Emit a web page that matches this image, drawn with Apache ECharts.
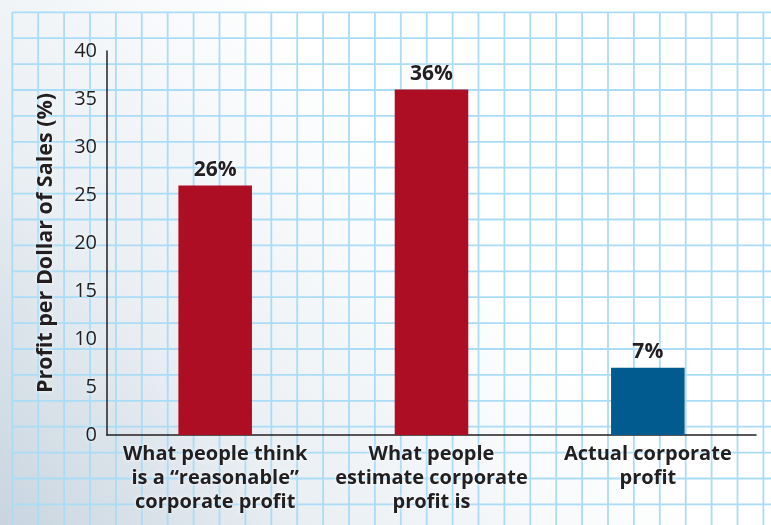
<!DOCTYPE html>
<html>
<head>
<meta charset="utf-8">
<title>Profit per Dollar of Sales</title>
<script src="https://cdn.jsdelivr.net/npm/echarts@6/dist/echarts.min.js"></script>
<style>
  html, body { margin: 0; padding: 0; background: #fff; }
  #chart { width: 771px; height: 525px; }
</style>
</head>
<body>
<div id="chart"></div>
<script>
// Survey categories and their profit percentages
const categories = [
  'What people think\nis a \u201creasonable\u201d\ncorporate profit',
  'What people\nestimate corporate\nprofit is',
  'Actual corporate\nprofit'
];
const profitValues = [26, 36, 7];
const barColors = ['#ad0e23', '#ad0e23', '#015b8e'];
const yTicks = [0, 5, 10, 15, 20, 25, 30, 35, 40];
const yAxisTitle = 'Profit per Dollar of Sales (%)';

const W = 771, H = 525;
const TEXT = '#231f20';
const FONT = '"Open Sans", "Noto Sans", sans-serif';
const halo = { textShadowColor: 'rgba(255,255,255,0.95)', textShadowBlur: 4 };

// Graph-paper backdrop
const paper = [];
const step = 25.9, start = 12.3;
for (let x = start; x < W + 1; x += step) {
  paper.push({ type: 'line', silent: true, z: -10,
    shape: { x1: x, y1: start, x2: x, y2: H },
    style: { stroke: '#aadcf6', lineWidth: 1.8 } });
}
for (let y = start; y < H + 1; y += step) {
  paper.push({ type: 'line', silent: true, z: -10,
    shape: { x1: start, y1: y, x2: W, y2: y },
    style: { stroke: '#aadcf6', lineWidth: 1.8 } });
}

const chart = echarts.init(document.getElementById('chart'), null, { renderer: 'canvas' });
chart.setOption({
  animation: false,
  backgroundColor: new echarts.graphic.LinearGradient(0, 1, 0.55, 0.35, [
    { offset: 0, color: '#c8d5df' },
    { offset: 0.45, color: '#eaeff3' },
    { offset: 1, color: '#ffffff' }
  ]),
  textStyle: { fontFamily: FONT, color: TEXT },
  graphic: paper,
  grid: { left: 107, right: 15, top: 51, bottom: 90, containLabel: false },
  xAxis: {
    type: 'category',
    data: categories,
    axisLine: { lineStyle: { color: TEXT, width: 1.5 } },
    axisTick: { show: false },
    axisLabel: {
      interval: 0, margin: 7, fontSize: 20, fontWeight: 'bold', lineHeight: 24,
      color: TEXT, fontFamily: FONT, ...halo
    },
    splitLine: { show: false }
  },
  yAxis: {
    type: 'value',
    min: yTicks[0], max: yTicks[yTicks.length - 1], interval: 5,
    name: yAxisTitle,
    nameLocation: 'middle',
    nameGap: 50,
    nameTextStyle: { fontSize: 21.5, fontWeight: 'bold', color: TEXT, fontFamily: FONT, ...halo },
    axisLine: { show: true, lineStyle: { color: TEXT, width: 1.5 } },
    axisTick: { show: false },
    axisLabel: { margin: 10, fontSize: 20, color: TEXT, fontFamily: FONT, ...halo },
    splitLine: { show: false }
  },
  series: [{
    type: 'bar',
    barWidth: '34%',
    data: profitValues.map((v, i) => ({ value: v, itemStyle: { color: barColors[i] } })),
    label: {
      show: true, position: 'top', distance: 5,
      formatter: p => p.value + '%',
      fontSize: 21, fontWeight: 'bold', color: TEXT, fontFamily: FONT, ...halo
    }
  }]
});
</script>
</body>
</html>
